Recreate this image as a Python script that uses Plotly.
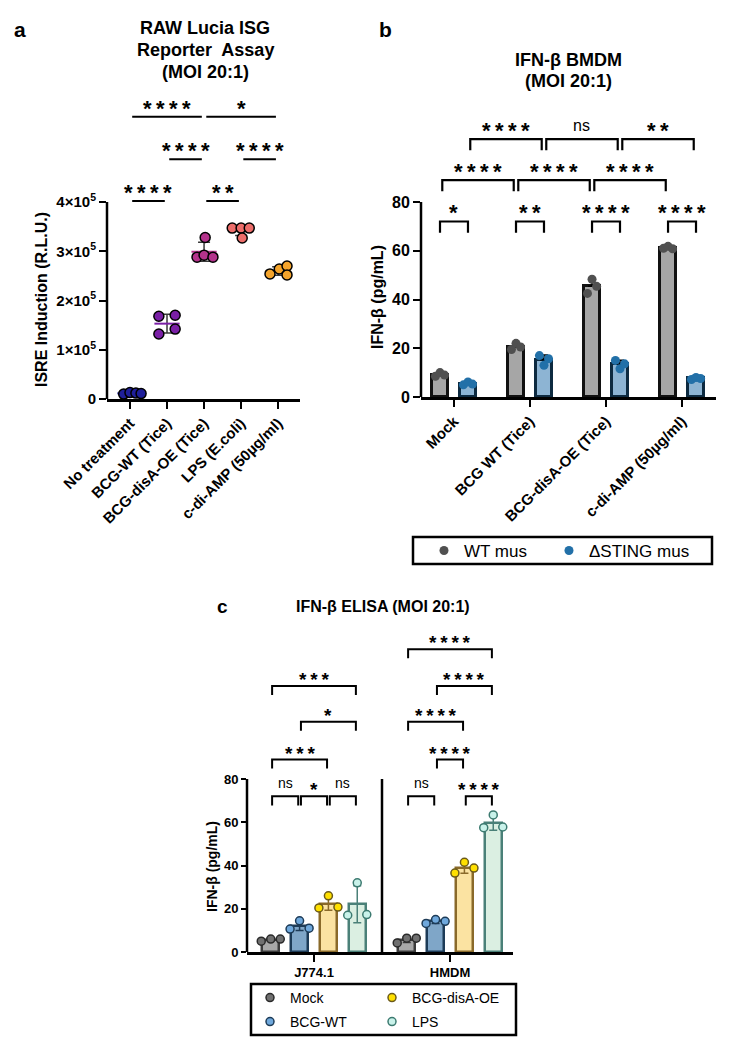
import numpy as np
import plotly.graph_objects as go

W, H = 736, 1049
FONT = "Arial, 'Liberation Sans', sans-serif"

# ---------------- Panel a data ----------------
a_categories = ["No treatment", "BCG-WT (Tice)", "BCG-disA-OE (Tice)", "LPS (E.coli)", "c-di-AMP (50µg/ml)"]
a_no_treatment = [1.0e4, 1.3e4, 1.2e4, 1.1e4]
a_bcg_wt = [1.68e5, 1.70e5, 1.32e5, 1.42e5]
a_bcg_disa = [3.28e5, 2.88e5, 2.92e5, 2.88e5]
a_lps = [3.47e5, 3.47e5, 3.47e5, 3.27e5]
a_cdiamp = [2.54e5, 2.64e5, 2.70e5, 2.52e5]
a_tickvals = [0, 1e5, 2e5, 3e5, 4e5]
a_ticktext = ["0", "1×10<sup>5</sup>", "2×10<sup>5</sup>", "3×10<sup>5</sup>", "4×10<sup>5</sup>"]
# (from category, to category, stars, level)
a_sig = [(0, 2, 4, 0), (2, 4, 1, 0),
         (1, 2, 4, 1), (3, 4, 4, 1),
         (0, 1, 4, 2), (2, 3, 2, 2)]
a_sig_levels = [5.73e5, 4.87e5, 4.02e5]

# ---------------- Panel b data ----------------
b_categories = ["Mock", "BCG WT (Tice)", "BCG-disA-OE (Tice)", "c-di-AMP (50µg/ml)"]
b_series = ["WT mus", "ΔSTING mus"]
b_wt = [[8.5, 10.0, 9.0], [19.5, 22.0, 20.5], [42.5, 48.3, 45.4], [61.0, 61.8, 60.8]]
b_sting = [[5.0, 6.2, 5.3], [17.0, 13.0, 15.7], [15.0, 11.6, 13.6], [7.2, 8.0, 7.6]]
b_tickvals = [0, 20, 40, 60, 80]
# (group0, series0, group1, series1, stars (0 = ns), level)
b_sig = [(0, 0, 0, 1, 1, 0), (1, 0, 1, 1, 2, 0), (2, 0, 2, 1, 4, 0), (3, 0, 3, 1, 4, 0),
         (0, 0, 1, 0, 4, 1), (1, 0, 2, 0, 4, 1), (2, 0, 3, 0, 4, 1),
         (0, 1, 1, 1, 4, 2), (1, 1, 2, 1, 0, 2), (2, 1, 3, 1, 2, 2)]
b_sig_levels = [72, 89, 105.8]

# ---------------- Panel c data ----------------
c_groups = ["J774.1", "HMDM"]
c_treatments = ["Mock", "BCG-WT", "BCG-disA-OE", "LPS"]
c_mock = [[5.0, 6.0, 6.0], [4.2, 6.4, 6.4]]
c_bcg_wt = [[10.6, 14.4, 11.0], [13.2, 15.0, 14.2]]
c_bcg_disa = [[20.4, 26.0, 20.8], [36.5, 41.5, 38.8]]
c_lps = [[17.0, 32.0, 17.3], [57.5, 63.4, 57.8]]
c_tickvals = [0, 20, 40, 60, 80]
# (group, treatment0, treatment1, stars (0 = ns), level)
c_sig = [(0, 0, 1, 0, 0), (0, 1, 2, 1, 0), (0, 2, 3, 0, 0), (0, 0, 2, 3, 1),
         (0, 1, 3, 1, 2), (0, 0, 3, 3, 3),
         (1, 0, 1, 0, 0), (1, 2, 3, 4, 0), (1, 1, 2, 4, 1),
         (1, 0, 2, 4, 2), (1, 1, 3, 4, 3), (1, 0, 3, 4, 4)]
c_sig_levels = [72, 89, 106.5, 123, 140]

# ---------------- styles ----------------
a_colors = ["#1f1f9a", "#7a1fa6", "#b4338c", "#ec6d6a", "#f4a42c"]
a_jitter = [[-0.17, 0.0, 0.16, 0.30], [-0.22, 0.22, -0.22, 0.22], [0.03, -0.19, 0.0, 0.24],
            [-0.24, 0.0, 0.22, 0.03], [-0.22, 0.03, 0.24, 0.24]]
b_bar_fill = ["#a6a6a6", "#8db4d3"]
b_bar_edge = ["#111111", "#0d2a40"]
b_point = ["#505050", "#2270a8"]
b_offset = [-0.184, 0.184]
b_jitter = [-0.06, 0.0, 0.06]
c_bar_fill = ["#a8a8a8", "#7fa6c8", "#fbe3a2", "#dbefe2"]
c_bar_edge = ["#3c3c3c", "#1d3b57", "#8a6a2a", "#4a8078"]
c_point = ["#707070", "#6fa8dc", "#ffe000", "#c9f2ea"]
c_point_edge = ["#2a2a2a", "#1d3b57", "#6b5a1a", "#3c7a70"]
c_offset = [-0.318, -0.106, 0.106, 0.318]
c_jitter = [-0.07, 0.0, 0.07]
THIN = "\u2009"


def yp(py):
    return 1 - py / H


def xp(px):
    return px / W


fig = go.Figure()
annotations = []
shapes = []

tickfont = dict(family=FONT, color="black", weight="bold")
axis_base = dict(showgrid=False, zeroline=False, ticks="outside", tickwidth=2, ticklen=7,
                 tickcolor="black", linecolor="black", linewidth=2.5, automargin=False)


def sig_text(x, y, stars, xa, ya, size, ns_size):
    if stars == 0:
        annotations.append(dict(x=x, y=y, xref=xa, yref=ya, text="ns", showarrow=False,
                                yanchor="bottom", yshift=3,
                                font=dict(family=FONT, size=ns_size, color="black")))
    else:
        annotations.append(dict(x=x, y=y, xref=xa, yref=ya, text=THIN.join(["*"] * stars), showarrow=False,
                                yanchor="bottom", yshift=-6,
                                font=dict(family=FONT, size=size, color="black", weight="bold")))


# ================= Panel a =================
a_data = [a_no_treatment, a_bcg_wt, a_bcg_disa, a_lps, a_cdiamp]
a_means = [float(np.mean(v)) for v in a_data]
a_sds = [float(np.std(v, ddof=1)) for v in a_data]
for i, vals in enumerate(a_data):
    fig.add_trace(go.Scatter(
        x=[i], y=[a_means[i]], mode="markers", xaxis="x", yaxis="y", showlegend=False,
        marker=dict(symbol="line-ew", size=18, line=dict(color=a_colors[i], width=2)),
        error_y=dict(type="data", array=[a_sds[i]], color="#3a3a3a", thickness=1.5, width=6),
        hoverinfo="skip"))
for i, vals in enumerate(a_data):
    fig.add_trace(go.Scatter(
        x=[i + j for j in a_jitter[i]], y=vals, mode="markers", xaxis="x", yaxis="y",
        showlegend=False, name=a_categories[i],
        marker=dict(size=10, color=a_colors[i], line=dict(color="black", width=1.5))))

bx, by = [], []
for c0, c1, st, lvl in a_sig:
    y = a_sig_levels[lvl]
    bx += [c0 + 0.06, c1 - 0.06, None]
    by += [y, y, None]
    sig_text((c0 + c1) / 2, y, st, "x", "y", 22, 16)
fig.add_trace(go.Scatter(x=bx, y=by, mode="lines", xaxis="x", yaxis="y", showlegend=False,
                         line=dict(color="black", width=2), hoverinfo="skip"))

# ================= Panel b =================
b_data = [b_wt, b_sting]
for s in range(2):
    means = [float(np.mean(v)) for v in b_data[s]]
    sds = [float(np.std(v, ddof=1)) for v in b_data[s]]
    fig.add_trace(go.Bar(
        x=list(range(len(b_categories))), y=means, xaxis="x2", yaxis="y2", showlegend=False,
        width=0.21, offset=b_offset[s] - 0.105,
        marker=dict(color=b_bar_fill[s], line=dict(color=b_bar_edge[s], width=3)),
        error_y=dict(type="data", symmetric=False, array=sds, arrayminus=[0] * len(sds),
                     color="black", thickness=1.5, width=4),
        hoverinfo="skip"))
for s in range(2):
    xs, ys = [], []
    for g, vals in enumerate(b_data[s]):
        xs += [g + b_offset[s] + j for j in b_jitter]
        ys += vals
    fig.add_trace(go.Scatter(
        x=xs, y=ys, mode="markers", xaxis="x2", yaxis="y2", name=b_series[s],
        legend="legend" if s == 0 else "legend2", showlegend=True,
        marker=dict(size=9, color=b_point[s], line=dict(width=0))))

bx, by = [], []
leg = 4.6
for g0, s0, g1, s1, st, lvl in b_sig:
    y = b_sig_levels[lvl]
    x0 = g0 + b_offset[s0]
    x1 = g1 + b_offset[s1]
    if lvl > 0:
        x0 += 0.03
        x1 -= 0.03
    bx += [x0, x0, x1, x1, None]
    by += [y - leg, y, y, y - leg, None]
    sig_text((x0 + x1) / 2, y, st, "x2", "y2", 22, 16)
fig.add_trace(go.Scatter(x=bx, y=by, mode="lines", xaxis="x2", yaxis="y2", showlegend=False,
                         line=dict(color="black", width=2.2), hoverinfo="skip"))

# ================= Panel c =================
c_data = [c_mock, c_bcg_wt, c_bcg_disa, c_lps]
c_legends = ["legend3", "legend4", "legend5", "legend6"]
for t, vals in enumerate(c_data):
    means = [float(np.mean(v)) for v in vals]
    sds = [float(np.std(v, ddof=1)) for v in vals]
    fig.add_trace(go.Bar(
        x=list(range(len(c_groups))), y=means, xaxis="x3", yaxis="y3", showlegend=False,
        width=0.125, offset=c_offset[t] - 0.0625,
        marker=dict(color=c_bar_fill[t], line=dict(color=c_bar_edge[t], width=2.5)),
        error_y=dict(type="data", array=sds, color=c_bar_edge[t], thickness=1.5, width=4),
        hoverinfo="skip"))
for t, vals in enumerate(c_data):
    xs, ys = [], []
    for g, v in enumerate(vals):
        xs += [g + c_offset[t] + j for j in c_jitter]
        ys += v
    fig.add_trace(go.Scatter(
        x=xs, y=ys, mode="markers", xaxis="x3", yaxis="y3", name=c_treatments[t],
        legend=c_legends[t], showlegend=True,
        marker=dict(size=8, color=c_point[t], line=dict(color=c_point_edge[t], width=1.5))))

bx, by = [], []
leg = 4.2
for g, t0, t1, st, lvl in c_sig:
    y = c_sig_levels[lvl]
    x0 = g + c_offset[t0] + 0.01
    x1 = g + c_offset[t1] - 0.01
    bx += [x0, x0, x1, x1, None]
    by += [y - leg, y, y, y - leg, None]
    sig_text((x0 + x1) / 2, y, st, "x3", "y3", 19, 14)
fig.add_trace(go.Scatter(x=bx, y=by, mode="lines", xaxis="x3", yaxis="y3", showlegend=False,
                         line=dict(color="black", width=2), hoverinfo="skip"))

# axis lines (vertical) and separators
shapes.append(dict(type="line", xref="x domain", yref="y", x0=0, x1=0, y0=0, y1=4e5,
                   line=dict(color="black", width=2.5)))
shapes.append(dict(type="line", xref="x2 domain", yref="y2", x0=0, x1=0, y0=0, y1=80,
                   line=dict(color="black", width=2.5)))
shapes.append(dict(type="line", xref="x3 domain", yref="y3", x0=0, x1=0, y0=0, y1=80,
                   line=dict(color="black", width=2.5)))
shapes.append(dict(type="line", xref="x3", yref="y3", x0=0.5, x1=0.5, y0=0, y1=80,
                   line=dict(color="black", width=2.5)))
# legend frames
shapes.append(dict(type="rect", xref="paper", yref="paper", x0=xp(413), x1=xp(712), y0=yp(564), y1=yp(537),
                   line=dict(color="black", width=2.5)))
shapes.append(dict(type="rect", xref="paper", yref="paper", x0=xp(251), x1=xp(516), y0=yp(1035), y1=yp(984),
                   line=dict(color="black", width=2.5)))


def label(px, py, text, size, bold=True, angle=0):
    annotations.append(dict(x=xp(px), y=yp(py), xref="paper", yref="paper", text=text, showarrow=False,
                            xanchor="center", yanchor="middle", textangle=angle,
                            font=dict(family=FONT, size=size, color="black",
                                      weight="bold" if bold else "normal")))


# panel letters & titles
label(20, 30, "a", 21)
label(385, 29, "b", 21)
label(222, 606, "c", 19)
label(205, 28, "RAW Lucia ISG", 18)
label(205, 50, "Reporter  Assay", 18)
label(205, 72, "(MOI 20:1)", 18)
label(568, 60, "IFN-β BMDM", 18)
label(568, 81, "(MOI 20:1)", 18)
label(383, 606, "IFN-β ELISA (MOI 20:1)", 16)
# axis titles
label(42, 300, "ISRE Induction (R.L.U.)", 16, angle=-90)
label(377, 297, "IFN-β (pg/mL)", 16, angle=-90)
label(212, 867, "IFN-β (pg/mL)", 14, angle=-90)


def legend_at(px, py, size):
    return dict(orientation="v", x=xp(px), xanchor="left", y=yp(py), yanchor="middle",
                bgcolor="rgba(0,0,0,0)", borderwidth=0,
                font=dict(family=FONT, size=size, color="black"))


fig.update_layout(
    width=W, height=H, margin=dict(l=0, r=0, t=0, b=0, autoexpand=False),
    paper_bgcolor="white", plot_bgcolor="white",
    barmode="overlay", bargap=0,
    font=dict(family=FONT, color="black"),
    xaxis=dict(axis_base, domain=[xp(107), xp(300)], range=[-0.62, 4.59], anchor="y",
               tickvals=list(range(5)), ticktext=a_categories, tickangle=-45,
               tickfont=dict(tickfont, size=15)),
    yaxis=dict(axis_base, domain=[yp(399), yp(110)], range=[0, (399 - 110) / 49.25 * 1e5], anchor="x",
               showline=False, tickvals=a_tickvals, ticktext=a_ticktext,
               tickfont=dict(tickfont, size=15)),
    xaxis2=dict(axis_base, domain=[xp(421), xp(716)], range=[-0.434, 3.447], anchor="y2",
                tickvals=list(range(4)), ticktext=b_categories, tickangle=-45,
                tickfont=dict(tickfont, size=15)),
    yaxis2=dict(axis_base, domain=[yp(397), yp(130)], range=[0, (397 - 130) / 2.4375], anchor="x2",
                showline=False, tickvals=b_tickvals, tickfont=dict(tickfont, size=16)),
    xaxis3=dict(axis_base, domain=[xp(247), xp(513)], range=[-0.4926, 1.4632], anchor="y3",
                tickvals=[0, 1], ticktext=c_groups, tickfont=dict(tickfont, size=13)),
    yaxis3=dict(axis_base, domain=[yp(952), yp(630)], range=[0, (952 - 630) / 2.1625], anchor="x3",
                showline=False, tickvals=c_tickvals, ticklen=5, tickfont=dict(tickfont, size=13)),
    legend=legend_at(424, 551, 17),
    legend2=legend_at(549, 551, 17),
    legend3=legend_at(250, 998, 14),
    legend4=legend_at(250, 1022, 14),
    legend5=legend_at(372, 998, 14),
    legend6=legend_at(372, 1022, 14),
    annotations=annotations,
    shapes=shapes,
)

fig.write_html("out.html", config={"displayModeBar": False},
               post_script="document.body.style.margin='0px';")
